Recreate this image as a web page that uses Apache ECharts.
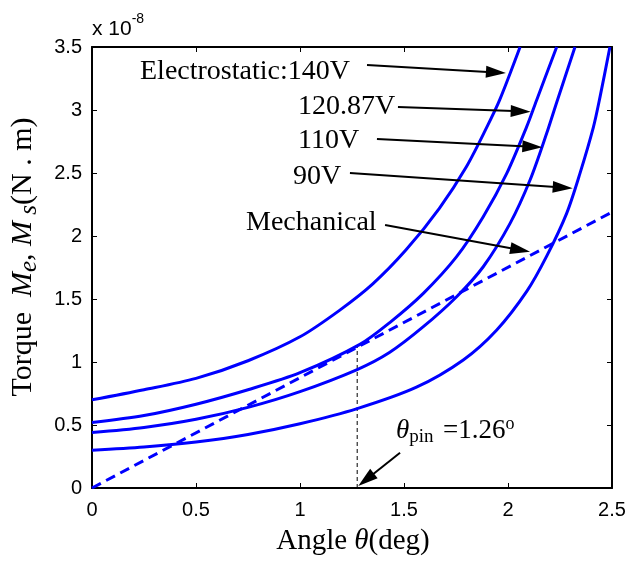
<!DOCTYPE html>
<html>
<head>
<meta charset="utf-8">
<script src="https://cdn.jsdelivr.net/npm/echarts@6/dist/echarts.min.js"></script>
<style>html,body{margin:0;padding:0;background:#fff}#main{width:627px;height:562px}</style>
</head>
<body>
<div id="main"></div>
<script>
// torque values in units of 1e-8 N.m, angle in degrees
const x140 = [0, 0.25, 0.5, 0.75, 1.0, 1.19, 1.35, 1.51, 1.67, 1.80, 1.90, 1.96, 2.058];
const y140 = [0.70, 0.78, 0.87, 1.01, 1.20, 1.41, 1.62, 1.89, 2.22, 2.55, 2.87, 3.08, 3.5];
const x120 = [0, 0.25, 0.5, 0.75, 1.0, 1.288, 1.433, 1.593, 1.753, 1.881, 1.994, 2.09, 2.138, 2.234];
const y120 = [0.52, 0.575, 0.665, 0.78, 0.915, 1.14, 1.315, 1.545, 1.836, 2.153, 2.497, 2.868, 3.08, 3.5];
const x110 = [0, 0.25, 0.5, 0.75, 1.0, 1.275, 1.43, 1.593, 1.753, 1.881, 2.01, 2.106, 2.186, 2.234, 2.322];
const y110 = [0.44, 0.48, 0.545, 0.64, 0.765, 0.94, 1.075, 1.28, 1.518, 1.756, 2.10, 2.444, 2.815, 3.06, 3.5];
const x90 = [0, 0.25, 0.5, 0.75, 1.0, 1.275, 1.56, 1.785, 1.946, 2.09, 2.186, 2.282, 2.346, 2.41, 2.442, 2.49];
const y90 = [0.30, 0.325, 0.365, 0.425, 0.51, 0.63, 0.80, 1.016, 1.254, 1.56, 1.84, 2.18, 2.497, 2.86, 3.1, 3.5];
const xMech = [0, 2.5];
const yMech = [0, 2.19];
const pinX = [1.275, 1.275];
const pinY = [0, 1.12];
const xTicks = [0, 0.5, 1, 1.5, 2, 2.5];
const yTicks = [0, 0.5, 1, 1.5, 2, 2.5, 3, 3.5];

// arrows for the text notes, [from, tip] in axis units
const arrows = [
  [[1.322, 3.357], [1.990, 3.294]],
  [[1.471, 3.024], [2.109, 2.987]],
  [[1.370, 2.770], [2.165, 2.704]],
  [[1.240, 2.500], [2.311, 2.379]],
  [[1.409, 2.087], [2.106, 1.875]],
  [[1.481, 0.280], [1.280, 0.016]]
];

function zip(xs, ys) { return xs.map((x, i) => [x, ys[i]]); }

const serif = 'Liberation Serif';
const sans = 'Liberation Sans';
const blue = '#0000ff';
const headLen = 20;

const chart = echarts.init(document.getElementById('main'));

function curve(name, xs, ys) {
  return {
    name: name, type: 'line', data: zip(xs, ys),
    xAxisIndex: 0, yAxisIndex: 0,
    showSymbol: false, smooth: 0.3,
    lineStyle: { color: blue, width: 3 }, silent: true, z: 3
  };
}

const axisCommon = {
  type: 'value', min: 0, interval: 0.5,
  axisLine: { show: true, onZero: false, lineStyle: { color: '#000', width: 2 } },
  axisTick: { show: true, inside: true, length: 5, lineStyle: { color: '#000', width: 1 } },
  splitLine: { show: false }
};

const option = {
  animation: false,
  backgroundColor: '#fff',
  grid: { left: 92, right: 15, top: 47, bottom: 74, containLabel: false, outerBoundsMode: 'none' },
  xAxis: [
    Object.assign({}, axisCommon, {
      max: 2.5, position: 'bottom',
      axisLabel: { margin: 12, fontFamily: sans, fontSize: 20, color: '#000',
        formatter: v => (xTicks.indexOf(v) >= 0 ? String(v) : '') }
    }),
    Object.assign({}, axisCommon, { max: 2.5, position: 'top', axisLabel: { show: false } })
  ],
  yAxis: [
    Object.assign({}, axisCommon, {
      max: 3.5, position: 'left',
      axisLabel: { margin: 10, fontFamily: sans, fontSize: 20, color: '#000',
        formatter: v => (yTicks.indexOf(v) >= 0 ? String(v) : '') }
    }),
    Object.assign({}, axisCommon, { max: 3.5, position: 'right', axisLabel: { show: false } })
  ],
  series: [
    curve('140V', x140, y140),
    curve('120.87V', x120, y120),
    curve('110V', x110, y110),
    curve('90V', x90, y90),
    {
      name: 'Mechanical', type: 'line', data: zip(xMech, yMech),
      showSymbol: false, silent: true, z: 4,
      lineStyle: { color: blue, width: 3, type: [10, 6] }
    },
    {
      name: 'pin', type: 'line', data: zip(pinX, pinY),
      showSymbol: false, silent: true, z: 2,
      lineStyle: { color: '#000', width: 1, type: [4, 3] }
    }
  ],
  graphic: [
    { type: 'text', left: 92, top: 12,
      style: { text: '{a|x 10}{b|-8}', rich: {
        a: { fontFamily: sans, fontSize: 21, fill: '#000', lineHeight: 28, verticalAlign: 'bottom' },
        b: { fontFamily: sans, fontSize: 14, fill: '#000', lineHeight: 14, verticalAlign: 'top' } } } },
    { type: 'text', x: 140, y: 72, style: { text: 'Electrostatic:140V', font: '28px "Liberation Serif"', fill: '#000', verticalAlign: 'middle' } },
    { type: 'text', x: 298, y: 107, style: { text: '120.87V', font: '28px "Liberation Serif"', fill: '#000', verticalAlign: 'middle' } },
    { type: 'text', x: 298, y: 141, style: { text: '110V', font: '28px "Liberation Serif"', fill: '#000', verticalAlign: 'middle' } },
    { type: 'text', x: 293, y: 177, style: { text: '90V', font: '28px "Liberation Serif"', fill: '#000', verticalAlign: 'middle' } },
    { type: 'text', x: 246, y: 223, style: { text: 'Mechanical', font: '28px "Liberation Serif"', fill: '#000', verticalAlign: 'middle' } },
    { type: 'text', x: 396, y: 431,
      style: { text: '{t|θ}{p|pin  }{n|=1.26}{o|o}', verticalAlign: 'middle', rich: {
        t: { fontFamily: serif, fontStyle: 'italic', fontSize: 27, fill: '#000', lineHeight: 32 },
        p: { fontFamily: serif, fontSize: 19, fill: '#000', lineHeight: 18, verticalAlign: 'bottom' },
        n: { fontFamily: serif, fontSize: 27, fill: '#000', lineHeight: 32 },
        o: { fontFamily: serif, fontSize: 18, fill: '#000', lineHeight: 16, verticalAlign: 'top' } } } },
    { type: 'text', x: 353, y: 541,
      style: { text: '{n|Angle }{t|θ}{n|(deg)}', align: 'center', verticalAlign: 'middle', rich: {
        n: { fontFamily: serif, fontSize: 29, fill: '#000', lineHeight: 34 },
        t: { fontFamily: serif, fontStyle: 'italic', fontSize: 29, fill: '#000', lineHeight: 34 } } } },
    { type: 'text', x: 23, y: 257, rotation: Math.PI / 2,
      style: { text: '{n|Torque  }{m|M}{s|e}{n|, }{m|M}{s| s}{n|(N . m)}', align: 'center', verticalAlign: 'middle', rich: {
        n: { fontFamily: serif, fontSize: 30, fill: '#000', lineHeight: 38 },
        m: { fontFamily: serif, fontStyle: 'italic', fontSize: 30, fill: '#000', lineHeight: 38 },
        s: { fontFamily: serif, fontStyle: 'italic', fontSize: 25, fill: '#000', lineHeight: 22, verticalAlign: 'bottom' } } } }
  ]
};

chart.setOption(option);

// arrow heads are centred on the end point, so pull the end back by half a head
const arrowLines = arrows.map(a => {
  const p0 = chart.convertToPixel({ gridIndex: 0 }, a[0]);
  const p1 = chart.convertToPixel({ gridIndex: 0 }, a[1]);
  const dx = p1[0] - p0[0], dy = p1[1] - p0[1];
  const len = Math.sqrt(dx * dx + dy * dy);
  const end = [p1[0] - dx / len * headLen / 2, p1[1] - dy / len * headLen / 2];
  return [{ coord: a[0] }, { coord: chart.convertFromPixel({ gridIndex: 0 }, end) }];
});

chart.setOption({
  series: [{}, {}, {}, {}, {
    markLine: {
      silent: true, symbol: ['none', 'triangle'], symbolSize: [12, headLen],
      label: { show: false }, emphasis: { disabled: true },
      lineStyle: { color: '#000', width: 2, type: 'solid' },
      itemStyle: { color: '#000' },
      data: arrowLines
    }
  }]
});
</script>
</body>
</html>
